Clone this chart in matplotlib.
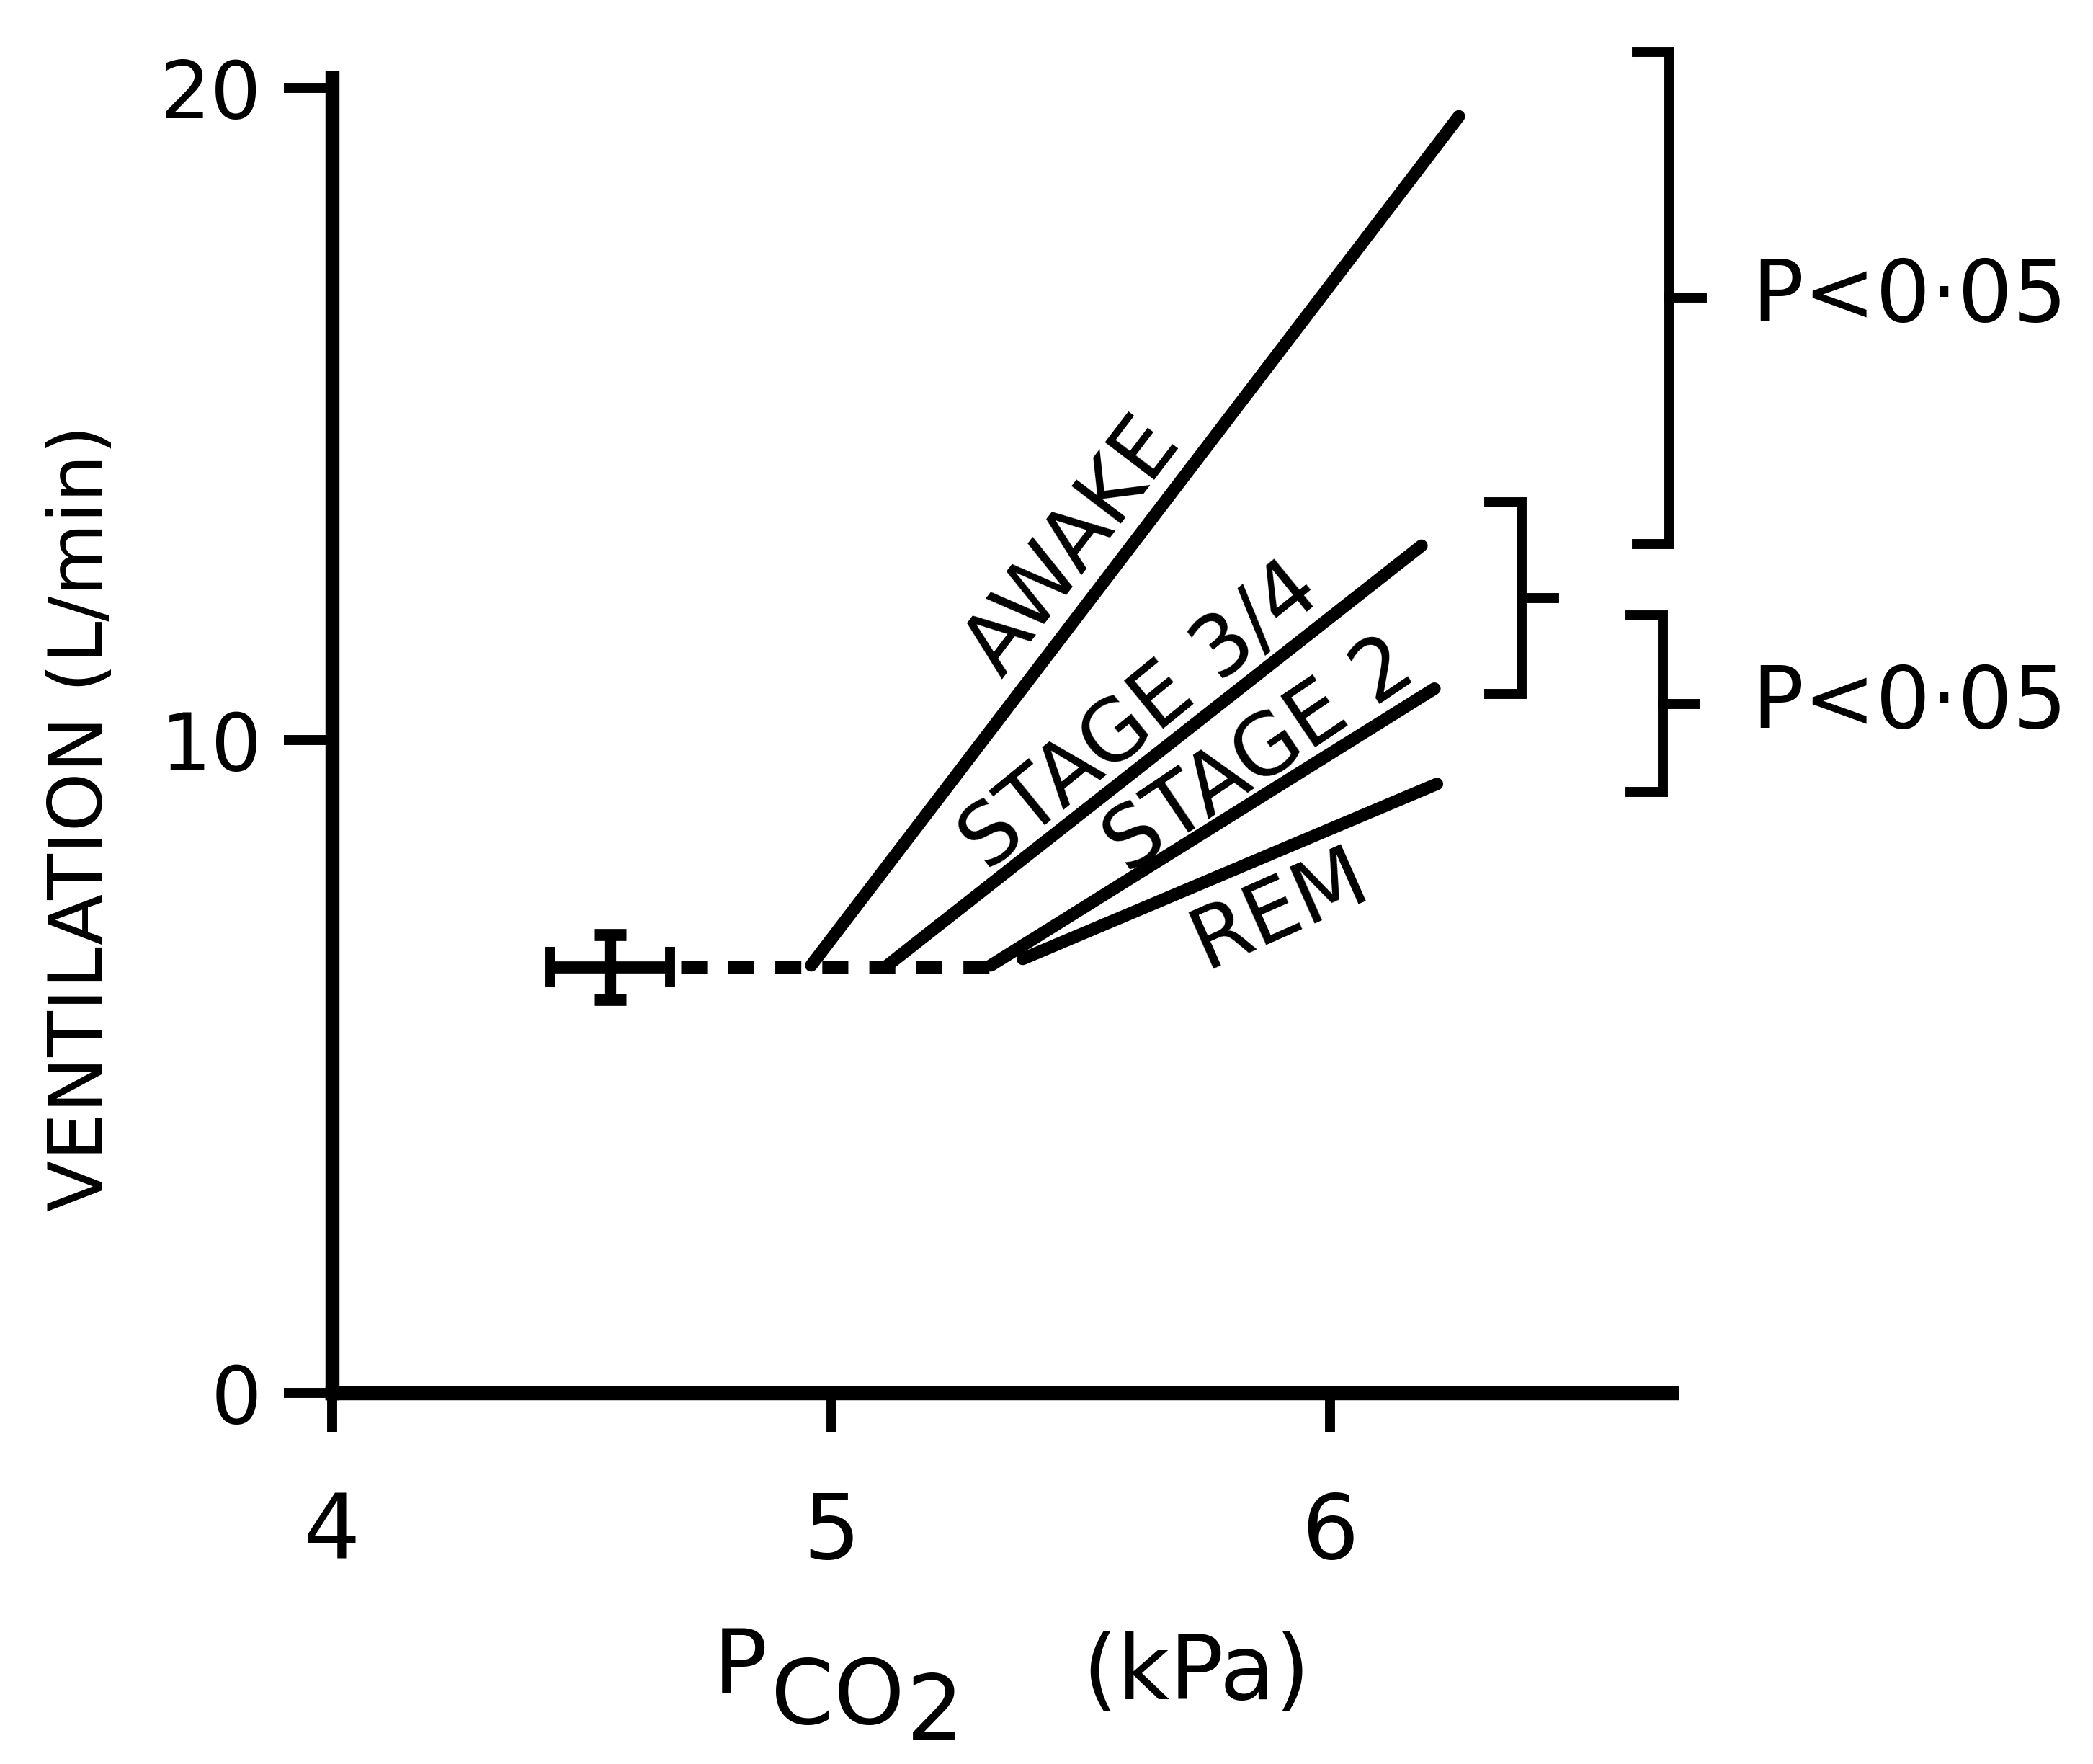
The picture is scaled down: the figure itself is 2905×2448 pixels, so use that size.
import numpy as np
import matplotlib
matplotlib.use("Agg")
import matplotlib.pyplot as plt

plt.rcParams['font.family'] = ['DejaVu Sans']
plt.rcParams['lines.scale_dashes'] = False

# CO2 response lines for each sleep state (kPa, L/min)
states = ["AWAKE", "STAGE 3/4", "STAGE 2", "REM"]
onset_x = [4.96, 5.113, 5.32, 5.384]
onset_y = [6.55, 6.55, 6.55, 6.65]
end_x = [6.258, 6.183, 6.209, 6.214]
end_y = [19.56, 12.98, 10.79, 9.33]

# resting point with SE bars
rest_x, rest_y = 4.557, 6.525
rest_xerr, rest_yerr = 0.12, 0.5

# significance brackets: ventilation span and the text beside them
brk_lo = [13.01, 10.71, 9.21]
brk_hi = [20.55, 13.65, 11.91]
brk_x = [6.680, 6.384, 6.667]
brk_text = ["P<0·05", None, "P<0·05"]

fig = plt.figure(figsize=(29.05, 24.48), dpi=100)
ax = fig.add_axes([0.1587, 0.2104, 0.7986 - 0.1587, 0.9559 - 0.2104])
ax.set_xlim(4, 6.684)
ax.set_ylim(0, 20.15)

lw = 12.5
for i in range(len(states)):
    ax.plot([onset_x[i], end_x[i]], [onset_y[i], end_y[i]], color='black',
            lw=lw, solid_capstyle='round')

# labels sit along each line: (fraction along line, baseline offset px, extra rotation)
lab_pos = [(0.46, 31, 0), (0.52, 22, 1), (0.65, 16, 2), (0.57, -108, 1)]
for i, (t, off, extra) in enumerate(lab_pos):
    s = ax.transData.transform((onset_x[i], onset_y[i]))
    e = ax.transData.transform((end_x[i], end_y[i]))
    d = e - s
    ang = np.arctan2(d[1], d[0])
    p = s + t * d + off * np.array([-np.sin(ang), np.cos(ang)])
    px, py = ax.transData.inverted().transform(p)
    ax.text(px, py, states[i], rotation=np.degrees(ang) + extra,
            rotation_mode='anchor', ha='center', va='baseline', fontsize=84)

# dashed baseline from rest point to the stage 2 onset
ax.plot([rest_x + rest_xerr + 0.022, onset_x[2]], [rest_y, rest_y], color='black',
        lw=lw, dashes=(26, 21))

ax.errorbar(rest_x, rest_y, xerr=rest_xerr, fmt='none', ecolor='black',
            elinewidth=12, capsize=20, capthick=10)
ax.errorbar(rest_x, rest_y, yerr=rest_yerr, fmt='none', ecolor='black',
            elinewidth=11, capsize=16, capthick=12)
ax.plot(rest_x, rest_y, 'o', color='black', ms=14)

# brackets to the right of the lines
for lo, hi, x, t in zip(brk_lo, brk_hi, brk_x, brk_text):
    serif = 0.065
    mid = (lo + hi) / 2
    ax.plot([x - serif, x, x, x - serif], [hi, hi, lo, lo], color='black', lw=10,
            clip_on=False, solid_joinstyle='miter')
    ax.plot([x, x + 0.065], [mid, mid], color='black', lw=10, clip_on=False)
    if t:
        ax.text(6.845, mid, t, ha='left', va='center', fontsize=86, clip_on=False)

for s in ['top', 'right']:
    ax.spines[s].set_visible(False)
for s in ['left', 'bottom']:
    ax.spines[s].set_linewidth(14)

ax.set_xticks([4, 5, 6])
ax.set_yticks([0, 10, 20])
ax.tick_params(axis='x', length=39, width=10, pad=58, labelsize=90)
ax.tick_params(axis='y', length=48, width=10, pad=22, labelsize=80)

ax.set_ylabel("VENTILATION (L/min)", fontsize=75, va='center')
ax.yaxis.set_label_coords(-0.187, 0.437)

# x-axis label: P with stepped CO2 subscript, then units
fig.text(990 / 2905, 1 - 2350 / 2448, "P", fontsize=90, ha='left', va='baseline')
fig.text(1070 / 2905, 1 - 2392 / 2448, "CO", fontsize=90, ha='left', va='baseline')
fig.text(1258 / 2905, 1 - 2414 / 2448, "2", fontsize=90, ha='left', va='baseline')
fig.text(1502 / 2905, 1 - 2358 / 2448, "(kPa)", fontsize=90, ha='left', va='baseline')

fig.savefig("out.png", dpi=100)
